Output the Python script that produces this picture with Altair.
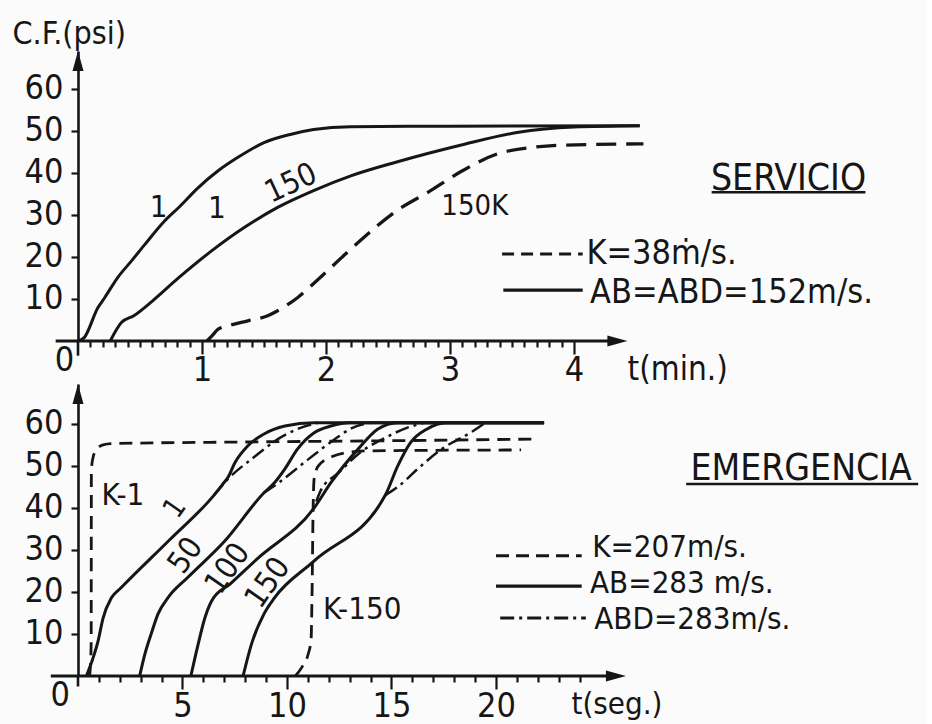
import altair as alt
import pandas as pd

FONT = "DejaVu Sans Condensed, Liberation Sans Narrow, DejaVu Sans, sans-serif"
INK = "#161616"
BG = "#fbfbfb"

# ---------------- SERVICIO (top) : t in minutes, C.F. in psi ----------------
srv_1_t = [0, 0.05, 0.16, 0.215, 0.32, 0.43, 0.54, 0.7, 0.81, 0.97, 1.13, 1.29, 1.5, 1.72, 1.9, 2.2, 3.0, 4.53]
srv_1_cf = [0, 0.8, 7.9, 10.3, 15.1, 19, 23, 28.6, 31.7, 36.5, 40.5, 43.7, 47.2, 49.2, 50.3, 51, 51.1, 51.2]
srv_150_t = [0.26, 0.35, 0.45, 0.6, 0.81, 1.08, 1.34, 1.61, 1.9, 2.2, 2.57, 3.1, 3.54, 4.0, 4.53]
srv_150_cf = [0, 4.4, 6, 9.5, 15, 21.5, 27, 31.8, 35.8, 39.3, 42.6, 46.7, 49.6, 50.9, 51.2]
srv_150k_t = [1.04, 1.08, 1.13, 1.21, 1.37, 1.53, 1.61, 1.77, 1.96, 2.15, 2.3, 2.57, 2.84, 3.1, 3.38, 3.65, 3.91, 4.56]
srv_150k_cf = [0, 1.2, 2.8, 3.6, 4.8, 6, 7.2, 10.3, 15.3, 20.5, 24.5, 31, 35.7, 40.5, 44.5, 46, 46.6, 46.9]

srv_ticks = [round(i / 10, 1) for i in range(1, 41)]
srv_y_ticks = [10, 20, 30, 40, 50, 60]

# ---------------- EMERGENCIA (bottom) : t in seconds ----------------
ab_1_t = [0.4, 0.7, 0.96, 1.2, 1.6, 2.06, 4.4, 6.5, 6.9, 7.2, 7.5, 8.13, 8.9, 9.9, 11.3, 22.3]
ab_1_cf = [0, 4, 8.3, 13.8, 18.6, 21, 32.5, 43, 45.5, 47.5, 50.7, 54.8, 57.6, 59.5, 60.3, 60.3]
ab_50_t = [2.95, 3.2, 3.5, 3.83, 4.3, 5.26, 7.0, 8.9, 9.4, 9.9, 10.5, 11.3, 12.1, 13.0, 22.3]
ab_50_cf = [0, 5.2, 10, 14.8, 18.6, 23.5, 32, 43.6, 46, 49.3, 54, 57.9, 59.5, 60.3, 60.3]
ab_100_t = [5.4, 5.75, 6.07, 6.4, 7.3, 8.6, 11.3, 12.1, 13.4, 14.35, 15.3, 22.3]
ab_100_cf = [0, 7.6, 13.8, 17.9, 22, 28, 40, 46, 54, 58.8, 60.3, 60.3]
ab_150_t = [7.9, 8.3, 8.9, 9.4, 11.3, 14.7, 15.3, 15.9, 16.7, 17.6, 22.3]
ab_150_cf = [0, 7.6, 14.8, 18.6, 27.4, 43, 50, 55.5, 58.8, 60.3, 60.3]

abd_1_t = [6.5, 7.2, 8.4, 9.6, 10.5, 11.5]
abd_1_cf = [43, 47, 52, 56.5, 58.8, 60.3]
abd_50_t = [8.9, 9.6, 11.0, 12.3, 13.1, 14.0]
abd_50_cf = [43.6, 46, 51.5, 56.4, 59, 60.3]
abd_100_t = [11.4, 11.6, 12.5, 13.4, 14.7, 15.7, 16.6]
abd_100_cf = [41.5, 44, 48.5, 52.8, 56.7, 59, 60.3]
abd_150_t = [14.7, 15.3, 16.3, 17.4, 18.8, 19.5]
abd_150_cf = [43, 45, 49.5, 54, 58, 60.3]

k_1_t = [0.55, 0.6, 0.63, 0.64, 0.72, 0.9, 1.2, 1.6, 8, 15, 21.9]
k_1_cf = [0, 3, 8, 49, 52, 54, 55, 55.3, 55.7, 56, 56.4]
k_150_t = [10.4, 10.7, 11.0, 11.15, 11.2, 11.25, 11.3, 11.5, 12.2, 13.2, 14.0, 21.2]
k_150_cf = [0, 2, 5, 8.5, 20, 40, 47, 50, 52.3, 53.4, 53.6, 53.8]

emg_ticks = list(range(1, 25))
emg_y_ticks = [10, 20, 30, 40, 50, 60]


def table(series):
    rows = []
    for name, ts, cs in series:
        for i, (t, c) in enumerate(zip(ts, cs)):
            rows.append({"series": name, "t": t, "cf": c, "i": i})
    return pd.DataFrame(rows)


def curves(df, xe, ye, width=3.0, dash=None):
    kw = dict(color=INK, strokeWidth=width, interpolate="monotone", strokeCap="butt")
    if dash:
        kw["strokeDash"] = dash
    return alt.Chart(df).mark_line(**kw).encode(x=xe, y=ye, detail="series:N", order="i:Q")


def label(txt, t, cf, xe, ye, size=30, angle=0, align="center"):
    kw = dict(text=txt, font=FONT, fontSize=size, color=INK, align=align, baseline="middle")
    if angle:
        kw["angle"] = angle
    return alt.Chart(pd.DataFrame({"t": [t], "cf": [cf]})).mark_text(**kw).encode(x=xe, y=ye)


def hrule(t1, t2, cf, xe, ye, width=2.8, dash=None):
    kw = dict(color=INK, strokeWidth=width, strokeCap="butt")
    if dash:
        kw["strokeDash"] = dash
    df = pd.DataFrame({"t": [t1], "t2": [t2], "cf": [cf]})
    return alt.Chart(df).mark_rule(**kw).encode(x=xe, x2="t2:Q", y=ye)


def vrule(t, cf1, cf2, xe, ye, width=2.6):
    df = pd.DataFrame({"t": [t], "cf": [cf1], "cf2": [cf2]})
    return alt.Chart(df).mark_rule(color=INK, strokeWidth=width).encode(x=xe, y=ye, y2="cf2:Q")


def arrow(t, cf, shape, xe, ye):
    return alt.Chart(pd.DataFrame({"t": [t], "cf": [cf]})).mark_point(
        shape=shape, size=400, filled=True, color=INK, opacity=1, strokeWidth=0
    ).encode(x=xe, y=ye)


UP = "M0,-1 L0.55,1 L-0.55,1 Z"
RIGHT = "M1,0 L-1,-0.55 L-1,0.55 Z"
TICK_FS = 34
LEG_FS = 34
LEG2_FS = 31
HEAD_FS = 37

# ---------------- top panel ----------------
W = 849
top_xe = alt.X(
    "t:Q",
    scale=alt.Scale(domain=[0, W / 124.0], nice=False, zero=False),
    axis=alt.Axis(
        values=srv_ticks, domain=False, grid=False,
        labelExpr="datum.value % 1 === 0 ? format(datum.value, 'd') : ''",
        tickSize={"condition": {"test": "datum.value % 1 === 0", "value": 13}, "value": 6},
        tickWidth=2.2, labelPadding=-1, labelOverlap=False, labelFlush=False, labelBound=False,
        title="t(min.)", titleX=549, titleY=28, titleAlign="left", titleBaseline="middle",
        titleFontSize=33,
    ),
)
top_ye = alt.Y(
    "cf:Q",
    scale=alt.Scale(domain=[0, 69], nice=False, zero=False),
    axis=alt.Axis(
        values=srv_y_ticks, grid=False, tickSize=7, tickWidth=2.2, domainWidth=2.6,
        labelPadding=8, title="C.F.(psi)", titleAngle=0, titleX=-66, titleY=-18,
        titleAlign="left", titleBaseline="middle", titleFontSize=32,
    ),
)

srv_solid = table([("1", srv_1_t, srv_1_cf), ("150", srv_150_t, srv_150_cf)])
srv_dash = table([("150K", srv_150k_t, srv_150k_cf)])

top = alt.layer(
    curves(srv_solid, top_xe, top_ye),
    curves(srv_dash, top_xe, top_ye, width=3.3, dash=[20, 10]),
    hrule(-0.18, 4.35, 0, top_xe, top_ye),
    vrule(0, -3.5, 0, top_xe, top_ye),
    arrow(4.35, 0, RIGHT, top_xe, top_ye),
    arrow(0, 66.6, UP, top_xe, top_ye),
    label("0", -0.11, -4.8, top_xe, top_ye, size=TICK_FS),
    label("1", 0.65, 31.7, top_xe, top_ye, size=31),
    label("1", 1.12, 31.4, top_xe, top_ye, size=31),
    label("150", 1.72, 37.4, top_xe, top_ye, size=31, angle=335),
    label("150K", 3.2, 32.1, top_xe, top_ye, size=29),
    label("SERVICIO", 5.73, 38.6, top_xe, top_ye, size=HEAD_FS),
    hrule(5.11, 6.35, 35.4, top_xe, top_ye, width=2.4),
    hrule(3.42, 4.07, 20.7, top_xe, top_ye, dash=[12, 7], width=3.2),
    label("K=38ṁ/s.", 4.10, 20.8, top_xe, top_ye, size=LEG_FS, align="left"),
    hrule(3.43, 4.07, 12.1, top_xe, top_ye, width=3.2),
    label("AB=ABD=152m/s.", 4.13, 11.4, top_xe, top_ye, size=LEG_FS, align="left"),
).properties(width=W, height=290)

# ---------------- bottom panel ----------------
bot_xe = alt.X(
    "t:Q",
    scale=alt.Scale(domain=[0, W / 20.9], nice=False, zero=False),
    axis=alt.Axis(
        values=emg_ticks, domain=False, grid=False,
        labelExpr="datum.value % 5 === 0 ? format(datum.value, 'd') : ''",
        tickSize={"condition": {"test": "datum.value % 5 === 0", "value": 13}, "value": 6},
        tickWidth=2.2, labelPadding=0, labelOverlap=False, labelFlush=False, labelBound=False,
        title="t(seg.)", titleX=493, titleY=28, titleAlign="left", titleBaseline="middle",
        titleFontSize=31,
    ),
)
bot_ye = alt.Y(
    "cf:Q",
    scale=alt.Scale(domain=[0, 69.5], nice=False, zero=False),
    axis=alt.Axis(
        values=emg_y_ticks, grid=False, tickSize=7, tickWidth=2.2, domainWidth=2.6,
        labelPadding=8, title=None,
    ),
)

emg_ab = table([("1", ab_1_t, ab_1_cf), ("50", ab_50_t, ab_50_cf),
                ("100", ab_100_t, ab_100_cf), ("150", ab_150_t, ab_150_cf)])
emg_abd = table([("1", abd_1_t, abd_1_cf), ("50", abd_50_t, abd_50_cf),
                 ("100", abd_100_t, abd_100_cf), ("150", abd_150_t, abd_150_cf)])
emg_k = table([("K-1", k_1_t, k_1_cf), ("K-150", k_150_t, k_150_cf)])

DASHDOT = [14, 5, 3, 5]

bottom = alt.layer(
    curves(emg_ab, bot_xe, bot_ye),
    curves(emg_abd, bot_xe, bot_ye, width=2.5, dash=DASHDOT),
    curves(emg_k, bot_xe, bot_ye, width=2.8, dash=[13, 8]),
    hrule(-1.3, 25.74, 0, bot_xe, bot_ye),
    vrule(0, -2.5, 0, bot_xe, bot_ye),
    arrow(25.74, 0, RIGHT, bot_xe, bot_ye),
    arrow(0, 67.1, UP, bot_xe, bot_ye),
    label("0", -0.85, -4.8, bot_xe, bot_ye, size=TICK_FS),
    label("K-1", 2.15, 42.9, bot_xe, bot_ye, size=31),
    label("1", 4.64, 40, bot_xe, bot_ye, size=29, angle=305),
    label("50", 5.17, 28.6, bot_xe, bot_ye, size=31, angle=305),
    label("100", 7.18, 25.5, bot_xe, bot_ye, size=31, angle=305),
    label("150", 9.1, 22.1, bot_xe, bot_ye, size=31, angle=305),
    label("K-150", 13.6, 15.7, bot_xe, bot_ye, size=31),
    label("EMERGENCIA", 34.6, 49.3, bot_xe, bot_ye, size=HEAD_FS),
    hrule(29.1, 40.2, 45.7, bot_xe, bot_ye, width=2.4),
    hrule(20.0, 24.1, 28.6, bot_xe, bot_ye, dash=[13, 7], width=3.0),
    label("K=207m/s.", 24.6, 30.5, bot_xe, bot_ye, size=LEG2_FS, align="left"),
    hrule(20.0, 24.1, 21.4, bot_xe, bot_ye, width=3.2),
    label("AB=283 m/s.", 24.5, 22.0, bot_xe, bot_ye, size=LEG2_FS, align="left"),
    hrule(20.2, 24.3, 13.8, bot_xe, bot_ye, dash=DASHDOT, width=3.0),
    label("ABD=283m/s.", 24.7, 13.3, bot_xe, bot_ye, size=LEG2_FS, align="left"),
).properties(width=W, height=292)

chart = (
    alt.vconcat(top, bottom, spacing=43, bounds="flush")
    .properties(padding={"left": 12, "top": 17, "right": 0, "bottom": 2}, background=BG)
    .configure_view(stroke=None)
    .configure_axis(
        labelFont=FONT, labelFontSize=TICK_FS, labelColor=INK, titleFont=FONT,
        titleFontWeight="normal", titleColor=INK, domainColor=INK, tickColor=INK,
    )
)

chart.save("out.html", embed_options={"renderer": "svg", "actions": False})
